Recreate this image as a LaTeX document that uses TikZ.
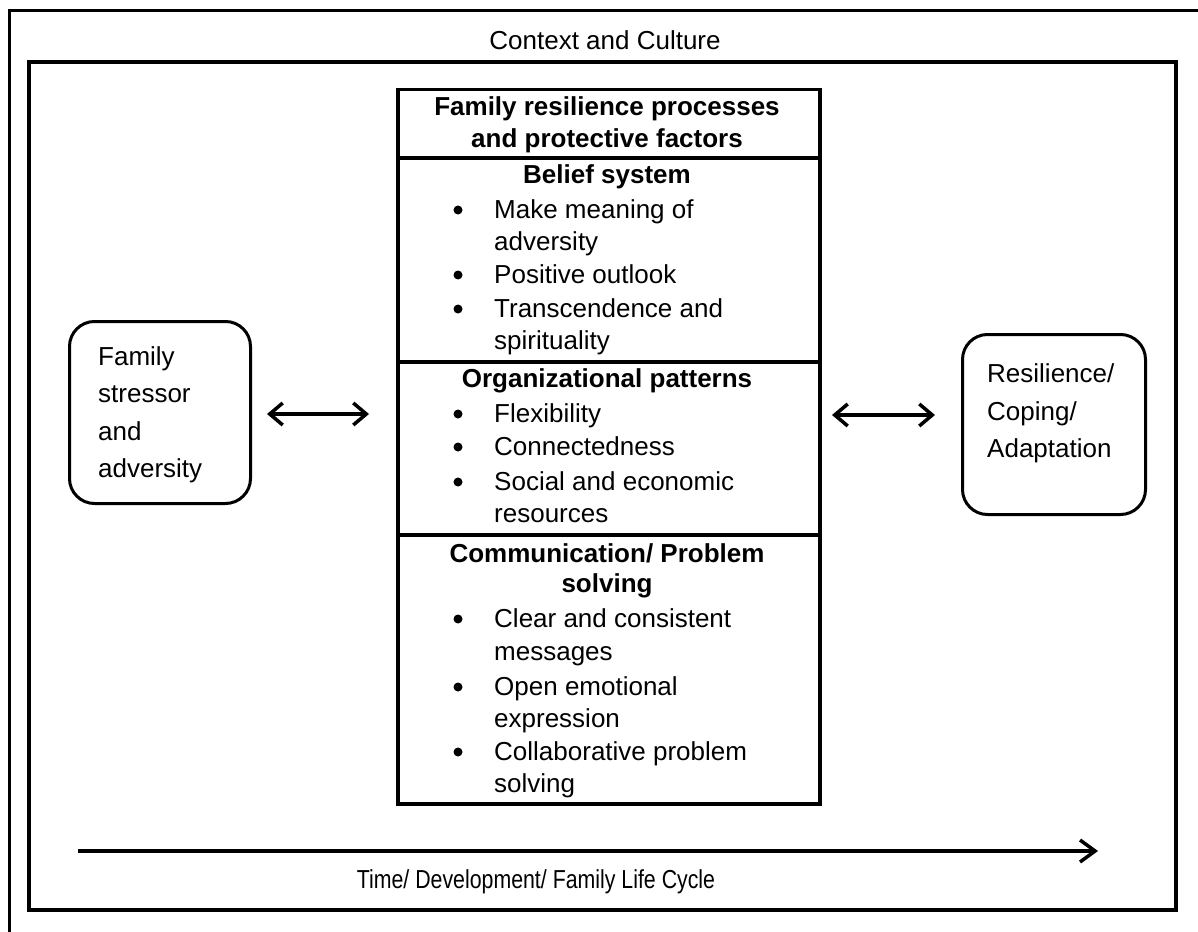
\documentclass[tikz,border=0pt]{standalone}
\usepackage{fontspec}
\setmainfont{Liberation Sans}
\newfontfamily\narrowfont[FakeStretch=0.82]{Liberation Sans}
\usetikzlibrary{arrows.meta}
\begin{document}
\begin{tikzpicture}[x=1pt,y=-1pt,
  txt/.style={inner sep=0pt, anchor=base west, font=\fontsize{26}{30}\selectfont},
  ctxt/.style={inner sep=0pt, anchor=base, font=\fontsize{26}{30}\selectfont},
  btxt/.style={inner sep=0pt, anchor=base, font=\fontsize{26}{30}\selectfont\bfseries},
  bul/.style={circle, fill, inner sep=0pt, minimum size=9pt},
  frame/.style={draw, line width=3pt},
  divider/.style={line width=4.5pt},
  rbox/.style={draw, line width=3pt, rounded corners=25pt, anchor=north west, inner sep=0pt},
  cboxstyle/.style={draw, line width=3.5pt, anchor=north west, inner sep=0pt},
  dblarrow/.style={{Straight Barb[length=13pt,width=22pt]}-{Straight Barb[length=13pt,width=22pt]}, line width=3.5pt},
  timearrow/.style={-{Straight Barb[length=15pt,width=22pt]}, line width=3.5pt}]
\useasboundingbox (0,0) rectangle (1198,931);
\clip (0,0) rectangle (1198,931);
\fill[white] (0,0) rectangle (1198,931);

% outer frame (cropped at right and bottom)
\draw[frame] (9,11) rectangle (1240,980);
% inner frame
\draw[line width=3.5pt] (29,62) rectangle (1176,910);

\node[ctxt] (ctx) at (605,50) {Context and Culture};
\node[inner sep=0pt, anchor=base, font=\fontsize{26}{30}\narrowfont] (time) at (536,888) {Time/ Development/ Family Life Cycle};

% time arrow
\coordinate (t1) at (78,851);
\coordinate (t2) at (1098,851);
\draw[timearrow] (t1) -- (t2);

% left box
\node[rbox, minimum width=181pt, minimum height=182pt] (lbox) at (68,320) {};
\node[txt] (l1) at (98,365) {Family};
\node[txt] (l2) at (98,402) {stressor};
\node[txt] (l3) at (98,440) {and};
\node[txt] (l4) at (98,477) {adversity};

% right box
\node[rbox, minimum width=183pt, minimum height=180pt] (rbox) at (961,333) {};
\node[txt] (r1) at (987,382) {Resilience/};
\node[txt] (r2) at (987,420) {Coping/};
\node[txt] (r3) at (987,457) {Adaptation};

% center box
\node[cboxstyle, minimum width=422pt, minimum height=714pt] (cbox) at (396,88) {};
\draw[divider] (cbox.west |- 0,158) -- (cbox.east |- 0,158);
\draw[divider] (cbox.west |- 0,362) -- (cbox.east |- 0,362);
\draw[divider] (cbox.west |- 0,535) -- (cbox.east |- 0,535);

\node[btxt] (h1) at (607,115) {Family resilience processes};
\node[btxt] (h2) at (607,147) {and protective factors};

\node[btxt] (bs) at (607,183) {Belief system};
\node[bul] (b1) at (458,210) {};
\node[txt] (bt1) at (494,218) {Make meaning of};
\node[txt] (bt1b) at (494,250) {adversity};
\node[bul] (b2) at (458,275) {};
\node[txt] (bt2) at (494,283) {Positive outlook};
\node[bul] (b3) at (458,309) {};
\node[txt] (bt3) at (494,317) {Transcendence and};
\node[txt] (bt3b) at (494,349) {spirituality};

\node[btxt] (op) at (607,387) {Organizational patterns};
\node[bul] (o1) at (458,414) {};
\node[txt] (ot1) at (494,422) {Flexibility};
\node[bul] (o2) at (458,447) {};
\node[txt] (ot2) at (494,455) {Connectedness};
\node[bul] (o3) at (458,482) {};
\node[txt] (ot3) at (494,490) {Social and economic};
\node[txt] (ot3b) at (494,522) {resources};

\node[btxt] (cp1) at (607,562) {Communication/ Problem};
\node[btxt] (cp2) at (607,592) {solving};
\node[bul] (c1) at (458,619) {};
\node[txt] (ct1) at (494,627) {Clear and consistent};
\node[txt] (ct1b) at (494,660) {messages};
\node[bul] (c2) at (458,687) {};
\node[txt] (ct2) at (494,695) {Open emotional};
\node[txt] (ct2b) at (494,727) {expression};
\node[bul] (c3) at (458,752) {};
\node[txt] (ct3) at (494,760) {Collaborative problem};
\node[txt] (ct3b) at (494,792) {solving};

% side arrows
\coordinate (la1) at (267,414);
\coordinate (la2) at (369,414);
\draw[dblarrow] (la1) -- (la2);
\coordinate (ra1) at (832,415);
\coordinate (ra2) at (935,415);
\draw[dblarrow] (ra1) -- (ra2);
\end{tikzpicture}
\end{document}
